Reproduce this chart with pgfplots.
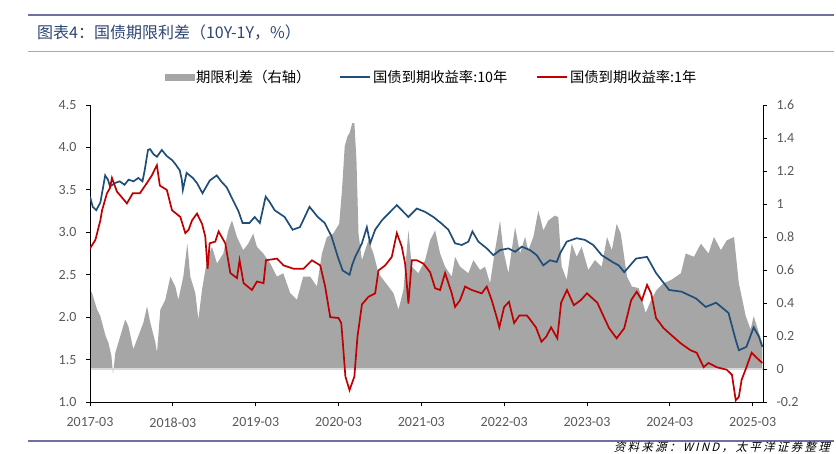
\documentclass[border=0pt]{standalone}
\usepackage{pgfplots}
\usepackage{pgfplotstable}
\pgfplotsset{compat=1.18}
\usepackage{fontspec}
\setmainfont{Carlito}
\newfontfamily\cjk{Noto Sans CJK SC}
\newfontfamily\cjkit[FakeSlant=0.25, LetterSpace=20]{Noto Sans CJK SC}
\definecolor{spreadgray}{HTML}{A6A6A6}
\definecolor{basegray}{HTML}{D9D9D9}
\definecolor{tenblue}{HTML}{1F4E79}
\definecolor{onered}{HTML}{C00000}
\definecolor{ticklab}{HTML}{595959}
\definecolor{titleblue}{RGB}{45,70,115}
\definecolor{rulepurple}{RGB}{112,112,160}
\definecolor{rulelight}{RGB}{165,165,205}

% x = months since 2017-03
\pgfplotstableread{
m v
0 3.42
0.4 3.30
0.9 3.26
1.5 3.35
2.2 3.67
2.6 3.62
2.9 3.54
3.6 3.58
4.3 3.60
5.0 3.56
5.6 3.62
6.3 3.60
7.0 3.64
7.6 3.60
7.9 3.72
8.4 3.97
8.7 3.98
9.2 3.92
9.7 3.89
10.4 3.97
11.1 3.90
11.9 3.85
12.4 3.80
13.0 3.73
13.3 3.62
13.45 3.50
14.0 3.70
14.9 3.64
15.5 3.58
16.3 3.46
17.35 3.61
18.36 3.67
19.0 3.60
19.8 3.53
20.7 3.38
21.5 3.25
22.1 3.11
23.1 3.11
23.86 3.18
24.6 3.11
25.45 3.42
26.0 3.36
26.75 3.26
28.2 3.18
29.35 3.03
30.4 3.06
30.7 3.11
31.8 3.30
33.0 3.18
34.0 3.11
35.0 2.95
35.9 2.71
36.6 2.55
37.6 2.50
38.0 2.62
38.42 2.71
39.39 2.87
40.11 3.06
40.59 2.87
41.31 3.03
42.28 3.14
43.24 3.22
44.45 3.32
45.41 3.24
46.13 3.18
47.35 3.28
48.55 3.24
49.75 3.18
50.97 3.10
51.92 3.03
52.89 2.87
53.86 2.85
54.82 2.89
55.4 3.01
56.26 2.89
57.48 2.81
58.44 2.73
59.4 2.79
60.61 2.81
61.58 2.77
62.55 2.83
63.75 2.79
64.72 2.73
65.67 2.61
66.64 2.67
67.61 2.65
68.09 2.75
69.06 2.89
70.51 2.93
71.71 2.91
72.91 2.85
74.13 2.73
75.9 2.64
76.6 2.61
77.4 2.53
79.1 2.69
80.7 2.71
82.0 2.52
83.9 2.32
85.7 2.30
87.8 2.22
89.2 2.12
90.7 2.17
92.5 2.05
93.55 1.73
94.0 1.61
95.1 1.65
96.15 1.88
96.9 1.77
97.4 1.65
}\tenY

\pgfplotstableread{
m v
0 2.81
0.78 2.91
1.5 3.14
1.75 3.26
2.46 3.46
2.89 3.52
3.18 3.64
3.9 3.48
5.35 3.34
6.2 3.46
7.23 3.46
8.24 3.58
8.96 3.67
9.69 3.79
10.12 3.55
11.13 3.50
11.88 3.26
13.09 3.18
13.81 2.99
14.29 3.03
14.78 3.14
15.5 3.22
16.23 3.10
16.7 2.95
17.04 2.57
17.33 2.87
18.15 2.89
18.63 3.01
19.6 2.87
20.33 2.52
21.29 2.46
21.67 2.67
22.25 2.40
23.46 2.32
24.19 2.42
25.14 2.40
25.49 2.67
27.08 2.69
28.04 2.61
29.49 2.57
30.93 2.57
32.15 2.67
33.35 2.61
34.07 2.36
34.8 2.00
36.0 1.99
36.4 1.93
36.6 1.73
37.0 1.30
37.6 1.14
38.3 1.30
38.75 1.77
39.4 2.15
40.34 2.24
41.31 2.28
41.79 2.55
42.76 2.61
43.72 2.71
44.45 2.99
45.17 2.83
45.65 2.63
46.13 2.16
46.62 2.67
47.35 2.67
48.31 2.63
49.27 2.53
50.0 2.34
50.72 2.32
51.44 2.52
52.41 2.28
52.89 2.12
53.61 2.20
54.34 2.36
55.3 2.32
56.75 2.28
57.48 2.36
58.2 2.20
58.92 2.00
59.3 1.88
60.0 2.12
60.7 2.18
61.45 1.93
62.2 2.02
63.3 2.02
64.6 1.88
65.4 1.71
66.1 1.77
66.8 1.88
67.7 1.75
68.25 2.17
69.1 2.32
70.1 2.14
71.1 2.20
72.0 2.28
73.5 2.17
74.0 2.08
75.2 1.87
76.3 1.75
77.4 1.87
78.4 2.20
79.2 2.30
79.95 2.20
80.7 2.38
81.3 2.28
82.0 1.99
83.1 1.87
84.2 1.79
85.6 1.69
87.0 1.61
87.9 1.58
88.9 1.41
89.6 1.46
90.8 1.41
92.25 1.38
93.0 1.32
93.55 1.02
94.0 1.06
94.4 1.26
95.1 1.41
95.85 1.58
96.6 1.52
97.4 1.46
}\oneY

\pgfplotstableread{
m v
0 0.48
0.3 0.46
1.03 0.36
1.5 0.32
2.26 0.20
2.66 0.16
3.1 0.08
3.34 -0.03
3.68 0.10
4.4 0.20
5.1 0.30
5.56 0.26
6.28 0.12
6.82 0.18
7.73 0.28
8.27 0.38
8.74 0.28
9.47 0.16
9.71 0.10
10.19 0.36
10.91 0.42
11.64 0.56
12.36 0.50
12.8 0.42
13.52 0.56
14.1 0.76
14.53 0.56
15.26 0.46
15.7 0.30
16.23 0.48
16.95 0.66
17.67 0.74
18.4 0.64
19.31 0.70
20.03 0.84
20.57 0.90
21.29 0.80
22.2 0.72
22.93 0.76
23.65 0.82
24.19 0.74
25.1 0.70
26.11 0.64
27.08 0.56
28.0 0.58
29.0 0.46
29.98 0.42
30.89 0.56
31.9 0.56
32.87 0.50
33.6 0.70
34.32 0.80
35.23 0.82
36.1 0.88
36.5 1.08
36.9 1.35
37.3 1.41
37.6 1.43
38.0 1.49
38.3 1.49
38.6 1.27
38.9 0.82
39.39 0.66
40.34 0.78
41.07 0.70
41.79 0.58
42.51 0.54
43.24 0.50
43.96 0.46
44.69 0.36
45.41 0.48
46.13 0.84
46.62 0.62
47.58 0.58
48.55 0.66
49.27 0.78
50.0 0.84
50.72 0.70
51.44 0.62
52.41 0.56
52.89 0.68
53.61 0.62
54.82 0.58
55.54 0.66
56.51 0.60
57.23 0.62
57.96 0.52
58.68 0.72
59.4 0.90
59.88 0.72
60.61 0.58
61.58 0.86
62.3 0.70
63.03 0.80
63.5 0.72
64.23 0.80
64.95 0.96
65.67 0.84
66.4 0.90
67.37 0.93
67.84 0.92
68.34 0.62
69.06 0.54
69.78 0.76
70.51 0.68
71.23 0.74
72.19 0.60
73.15 0.66
74.13 0.62
74.9 0.80
75.6 0.72
76.3 0.88
76.9 0.82
77.8 0.56
78.5 0.50
79.5 0.49
80.5 0.34
81.3 0.42
82.1 0.48
83.1 0.52
84.2 0.54
85.6 0.58
86.3 0.70
87.5 0.68
88.5 0.76
89.6 0.70
90.4 0.80
91.4 0.72
92.25 0.78
93.3 0.80
94.0 0.52
95.0 0.32
95.7 0.24
96.15 0.32
96.9 0.22
97.4 0.16
}\spread

\begin{document}
\begin{tikzpicture}
\useasboundingbox (0pt,0pt) rectangle (836pt,454pt);
% header and footer rules
\draw[rulepurple, line width=2.5pt] (28pt,439pt) -- (834pt,439pt);
\draw[rulelight, line width=1pt] (28pt,402pt) -- (834pt,402pt);
\draw[rulepurple, line width=1.2pt] (28pt,13pt) -- (834pt,13pt);
\node[anchor=west, text=titleblue, font=\cjk\fontsize{16}{19}\selectfont, inner sep=0pt] at (37pt,421pt) {图表4：国债期限利差（10Y-1Y，\%）};
\node[anchor=east, font=\cjkit\fontsize{11.5}{14}\selectfont, inner sep=0pt] at (830pt,7pt) {资料来源：WIND，太平洋证券整理};

% right axis: spread
\begin{axis}[
  at={(90pt,52pt)}, anchor=south west, scale only axis,
  width=673pt, height=297pt,
  xmin=0, xmax=97.5, ymin=-0.2, ymax=1.6,
  axis x line=none, axis y line*=right,
  ytick={-0.2,0,0.2,0.4,0.6,0.8,1,1.2,1.4,1.6},
  yticklabels={-0.2,0,0.2,0.4,0.6,0.8,1,1.2,1.4,1.6},
  ytick pos=right, tick align=outside, major tick length=4pt,
  tick style={black, line width=0.8pt},
  axis line style={-, black, line width=0.8pt},
  yticklabel style={font=\fontsize{14}{16}\selectfont, text=ticklab, xshift=6pt},
]
\addplot[fill=spreadgray, draw=none] table[x=m, y=v] {\spread} \closedcycle;
\addplot[basegray, line width=1.5pt] coordinates {(0,0) (97.5,0)};
\end{axis}

% left axis: yields
\begin{axis}[
  at={(90pt,52pt)}, anchor=south west, scale only axis,
  width=673pt, height=297pt,
  xmin=0, xmax=97.5, ymin=1, ymax=4.5,
  axis x line*=bottom, axis y line*=left,
  xtick={0,12,24,36,48,60,72,84,96},
  xticklabels={2017-03,2018-03,2019-03,2020-03,2021-03,2022-03,2023-03,2024-03,2025-03},
  ytick={1,1.5,2,2.5,3,3.5,4,4.5},
  yticklabels={1.0,1.5,2.0,2.5,3.0,3.5,4.0,4.5},
  xtick pos=bottom, ytick pos=left,
  tick align=outside, major tick length=4pt,
  tick style={black, line width=0.8pt},
  axis line style={-, black, line width=0.8pt},
  xticklabel style={font=\fontsize{14}{16}\selectfont, text=ticklab, yshift=-8pt},
  yticklabel style={font=\fontsize{14}{16}\selectfont, text=ticklab, xshift=-6pt},
  legend columns=3,
  legend cell align=left,
  legend image code/.code={\draw[#1] (0pt,0pt) -- (30pt,0pt);},
  legend style={at={(0.111,1.094)}, anchor=west, draw=none, fill=none,
    inner sep=0pt, outer sep=0pt,
    font=\cjk\fontsize{14.3}{16}\selectfont,
    /tikz/every even column/.append style={column sep=27pt}},
]
\addlegendimage{legend image code/.code={\fill[spreadgray] (0pt,-3pt) rectangle (29pt,3pt);}}
\addlegendentry{期限利差（右轴）}
\addplot[tenblue, line width=1.7pt] table[x=m, y=v] {\tenY};
\addlegendentry{国债到期收益率:10年}
\addplot[onered, line width=1.7pt] table[x=m, y=v] {\oneY};
\addlegendentry{国债到期收益率:1年}
\end{axis}
\end{tikzpicture}
\end{document}
